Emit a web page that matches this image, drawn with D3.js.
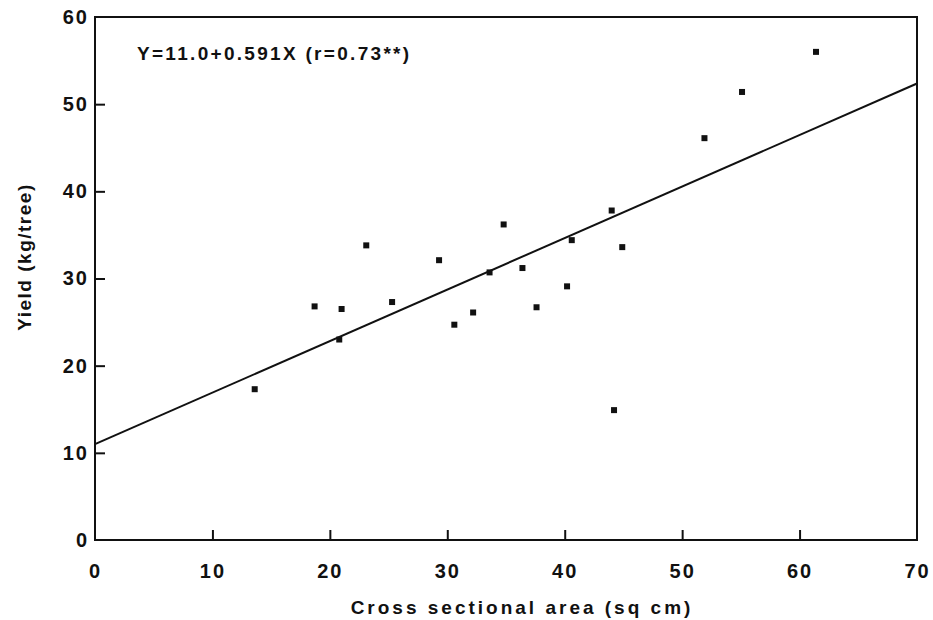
<!DOCTYPE html>
<html>
<head>
<meta charset="utf-8">
<script src="https://cdn.jsdelivr.net/npm/d3@7"></script>
<style>
  body { margin: 0; background: #fff; }
  text { font-family: "Liberation Sans", Arial, sans-serif; font-weight: bold; fill: #111; }
</style>
</head>
<body>
<svg id="chart" width="933" height="620"></svg>
<script>
// data
const area = [13.6, 18.7, 20.8, 21.0, 23.1, 25.3, 29.3, 30.6, 32.2, 33.6, 34.8,
              36.4, 37.6, 40.2, 40.6, 44.0, 44.2, 44.9, 51.9, 55.1, 61.4];
const yieldKg = [17.3, 26.8, 23.0, 26.5, 33.8, 27.3, 32.1, 24.7, 26.1, 30.7, 36.2,
                 31.2, 26.7, 29.1, 34.4, 37.8, 14.9, 33.6, 46.1, 51.4, 56.0];
const xTicks = [0, 10, 20, 30, 40, 50, 60, 70];
const yTicks = [0, 10, 20, 30, 40, 50, 60];
const intercept = 11.0, slope = 0.591;

const margin = { top: 17, right: 16, bottom: 80, left: 95 };
const width = 933 - margin.left - margin.right;
const height = 620 - margin.top - margin.bottom;

const svg = d3.select("#chart");
const g = svg.append("g").attr("transform", `translate(${margin.left},${margin.top})`);

const x = d3.scaleLinear().domain([0, 70]).range([0, width]);
const y = d3.scaleLinear().domain([0, 60]).range([height, 0]);

// frame
g.append("rect")
    .attr("x", 0).attr("y", 0)
    .attr("width", width).attr("height", height)
    .attr("fill", "none")
    .attr("stroke", "#111")
    .attr("stroke-width", 2);

// x axis: ticks pointing up into the plot
const xAxis = g.append("g")
    .attr("transform", `translate(0,${height})`)
    .call(d3.axisTop(x).tickValues(xTicks).tickSize(10).tickFormat(d3.format("d")));
xAxis.select(".domain").remove();
xAxis.selectAll("line").attr("stroke", "#111").attr("stroke-width", 2)
    .filter(d => d === 0 || d === 70).remove();
xAxis.selectAll("text")
    .attr("y", 38)
    .attr("font-size", 20)
    .attr("letter-spacing", 2);

// y axis: ticks pointing right into the plot
const yAxis = g.append("g")
    .call(d3.axisRight(y).tickValues(yTicks).tickSize(10).tickFormat(d3.format("d")));
yAxis.select(".domain").remove();
yAxis.selectAll("line").attr("stroke", "#111").attr("stroke-width", 2)
    .filter(d => d === 0 || d === 60).remove();
yAxis.selectAll("text")
    .attr("x", -6)
    .attr("text-anchor", "end")
    .attr("font-size", 20)
    .attr("letter-spacing", 2);

// regression line
const line = d3.line().x(d => x(d)).y(d => y(intercept + slope * d));
g.append("path")
    .datum([0, 70])
    .attr("d", line)
    .attr("fill", "none")
    .attr("stroke", "#111")
    .attr("stroke-width", 2);

// points
const s = 6;
g.selectAll("rect.pt")
    .data(area.map((a, i) => [a, yieldKg[i]]))
    .enter()
    .append("rect")
    .attr("class", "pt")
    .attr("x", d => x(d[0]) - s / 2)
    .attr("y", d => y(d[1]) - s / 2)
    .attr("width", s)
    .attr("height", s)
    .attr("fill", "#111");

// equation
g.append("text")
    .attr("x", 42).attr("y", 43)
    .attr("font-size", 19)
    .attr("letter-spacing", 2.3)
    .text("Y=11.0+0.591X (r=0.73**)");

// axis titles
svg.append("text")
    .attr("x", 522)
    .attr("y", 614)
    .attr("text-anchor", "middle")
    .attr("font-size", 19)
    .attr("letter-spacing", 3)
    .text("Cross sectional area (sq cm)");

svg.append("text")
    .attr("transform", `translate(31,257) rotate(-90)`)
    .attr("text-anchor", "middle")
    .attr("font-size", 19)
    .attr("letter-spacing", 1.5)
    .text("Yield (kg/tree)");
</script>
</body>
</html>
